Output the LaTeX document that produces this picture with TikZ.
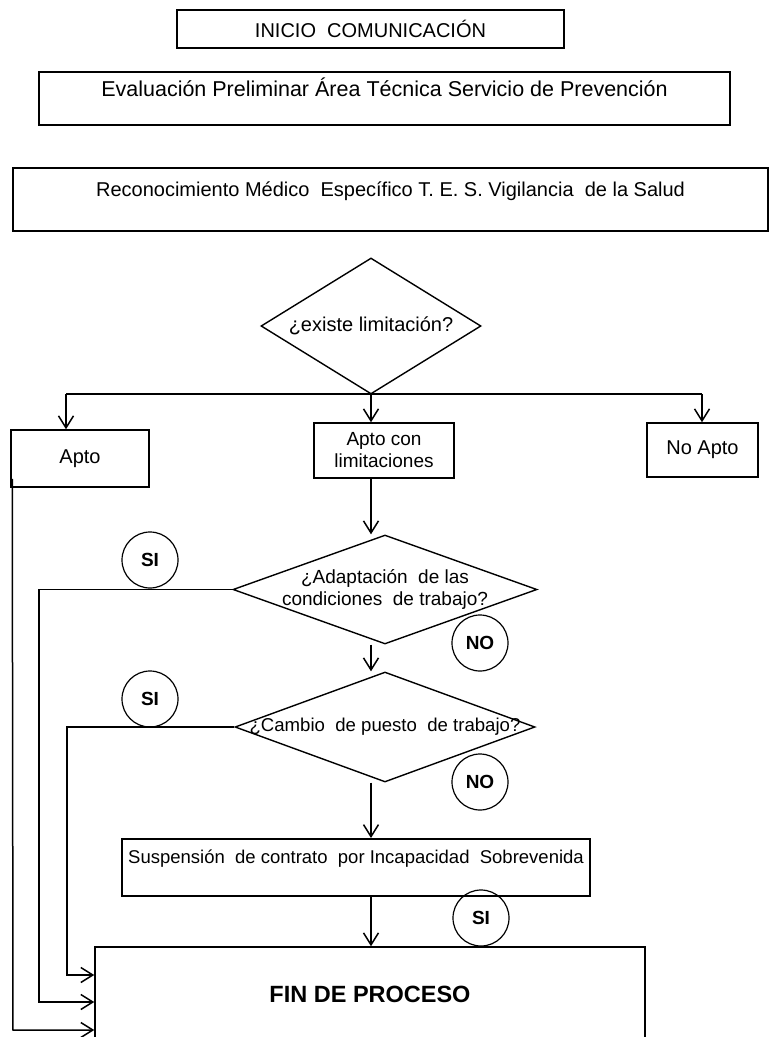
\documentclass[tikz,border=0pt]{standalone}
\usepackage{fontspec}
\setmainfont{Liberation Sans}
\usetikzlibrary{shapes.geometric,arrows.meta,positioning,calc}

\newcommand{\letra}{\fontsize{20}{24}\selectfont}

\tikzset{
  caja/.style={draw, line width=1.5pt, inner sep=0pt, align=center},
  rombo/.style={draw, diamond, line width=1.4pt, inner sep=0pt},
  circulo/.style={draw, circle, line width=1.2pt, minimum size=56pt, inner sep=0pt, font=\fontsize{19}{22}\selectfont\bfseries},
  flecha/.style={-{Straight Barb[length=12pt,width=15pt]}},
  linea/.style={line width=1.5pt, draw=black}
}

\begin{document}
\begin{tikzpicture}[x=1pt, y=-1pt, font=\letra]
    \useasboundingbox (0,0) rectangle (770,1037);
    \clip (0,0) rectangle (770,1037);

    % Cajas superiores
    \node[caja, minimum width=387pt, minimum height=38pt] (inicio) at (370.5,29) {INICIO \ COMUNICACIÓN};
    \node[caja, anchor=north, minimum width=691pt, text height=25pt, text depth=28pt, font=\fontsize{21.5}{25}\selectfont] (evaluacion) at (384.5,71) {Evaluación Preliminar Área Técnica Servicio de Prevención};
    \node[caja, anchor=north, minimum width=755pt, text height=29pt, text depth=34pt] (reconoc) at (390.5,167) {Reconocimiento Médico \ Específico T. E. S. Vigilancia \ de la Salud};

    % Primera decision
    \node[rombo, minimum width=220pt, minimum height=136pt, label={center:¿existe limitación?}] (d1) at (371,326) {};

    \node[caja, minimum width=138pt, minimum height=57pt] (apto) at (80,458.5) {Apto};
    \node[caja, minimum width=140pt, minimum height=55pt, font=\fontsize{19}{22}\selectfont] (limit) at (384,450.5) {Apto con\\limitaciones};
    \node[caja, minimum width=111pt, minimum height=54pt] (noapto) at (702.5,450) {No Apto};

    % Decisiones intermedias
    \node[rombo, minimum width=304pt, minimum height=109pt, label={[align=center, font=\fontsize{19}{22}\selectfont]center:{¿Adaptación \ de las\\condiciones \ de trabajo?}}] (d2) at (385,589.5) {};
    \node[rombo, minimum width=300pt, minimum height=110pt, label={[font=\fontsize{18.6}{22}\selectfont]center:{¿Cambio \ de puesto \ de trabajo?}}] (d3) at (385,727) {};

    \node[caja, anchor=north, minimum width=468pt, text height=25pt, text depth=32pt, font=\fontsize{18.5}{22}\selectfont] (susp) at (356,838) {Suspensión \ de contrato \ por Incapacidad \ Sobrevenida};
    \node[caja, minimum width=550pt, minimum height=94pt, font=\fontsize{23.5}{27}\selectfont\bfseries] (fin) at (370,994) {FIN DE PROCESO};

    % Puntos de giro
    \coordinate (jl) at (66,394);
    \coordinate (jr) at (702,394);
    \coordinate (b0) at (13,1030);
    \coordinate (b1) at (39,1002);
    \coordinate (b2) at (67,975);

    % Conectores
    \draw[linea] (jl) -- (jr);
    \draw[linea, flecha] (jl) -- (jl |- apto.north);
    \draw[linea, flecha] (d1.south) -- (d1.south |- limit.north);
    \draw[linea, flecha] (jr) -- (jr |- noapto.north);
    \draw[linea, flecha] (d1.south |- limit.south) -- (d1.south |- d2.north);
    \draw[linea, flecha] (d1.south |- d2.south) -- (d1.south |- d3.north);
    \draw[linea, flecha] (d1.south |- d3.south) -- (d1.south |- susp.north);
    \draw[linea, flecha] (d1.south |- susp.south) -- (d1.south |- fin.north);
    \draw[linea, flecha] ([xshift=2pt,yshift=9pt]apto.south west) -- (b0) -- (b0 -| fin.west);
    \draw[linea, flecha] (d2.west) -| (b1) -- (b1 -| fin.west);
    \draw[linea, flecha] (d3.west) -| (b2) -- (b2 -| fin.west);

    % Respuestas
    \node[circulo] (si1) at (150,560) {SI};
    \node[circulo] (si2) at (150,699) {SI};
    \node[circulo] (no1) at (480,643) {NO};
    \node[circulo] (no2) at (480,782) {NO};
    \node[circulo] (si3) at (481,918) {SI};
\end{tikzpicture}
\end{document}
